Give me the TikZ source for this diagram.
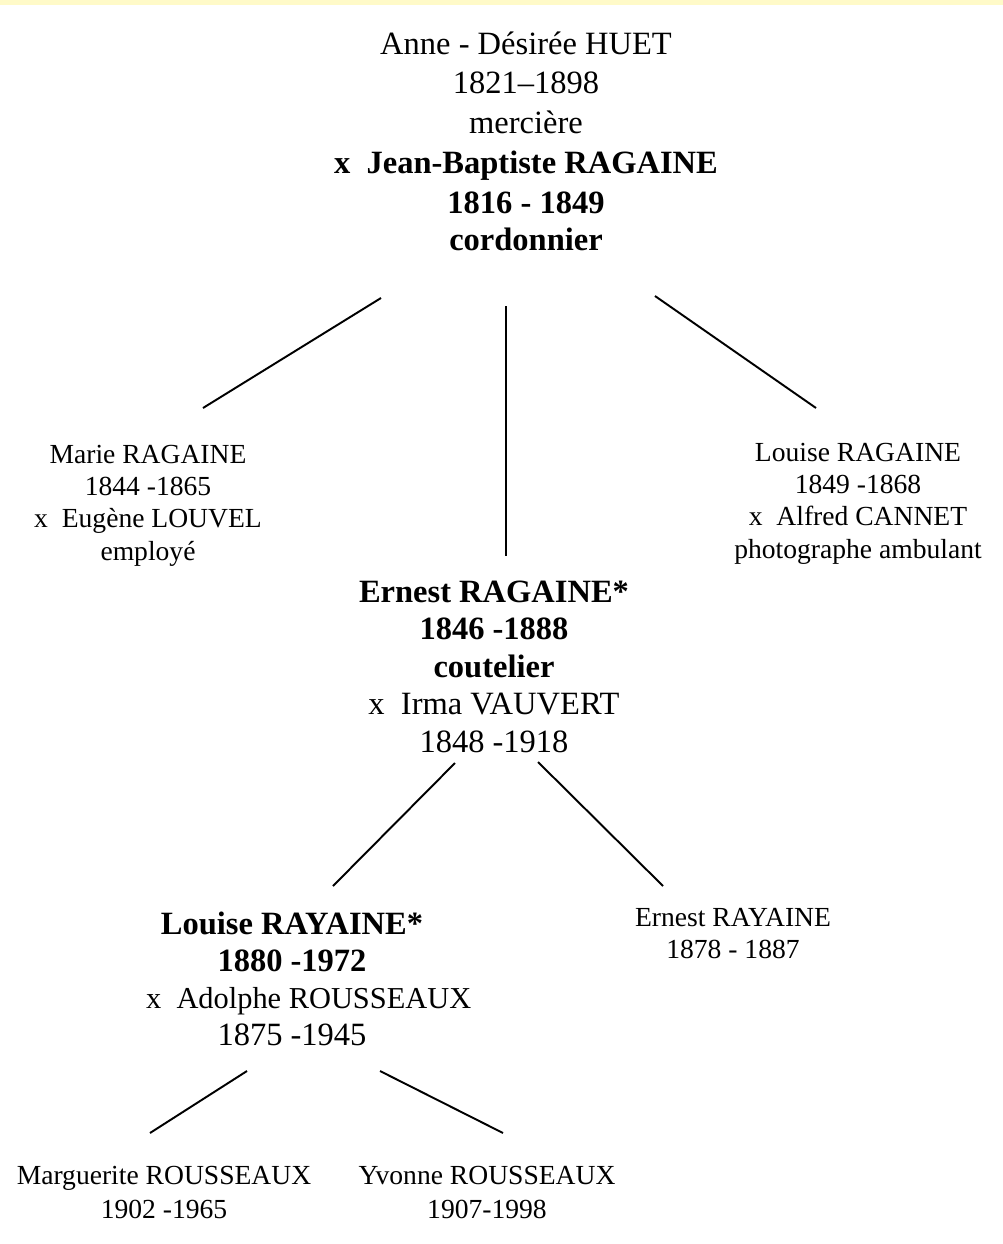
\documentclass[tikz,border=0pt]{standalone}
\usepackage{fontspec}
\setmainfont{Liberation Serif}
\usepackage{xcolor}
\usepackage{tikz}
\definecolor{band}{HTML}{FFFAC8}

\begin{document}
\begin{tikzpicture}[
        x=0.02cm, y=-0.02cm,
        bigbox/.style={align=center, inner sep=0pt, anchor=base,
                       font=\fontsize{18.5}{22.7}\selectfont},
        smallbox/.style={align=center, inner sep=0pt, anchor=base,
                         font=\fontsize{15.7}{18.3}\selectfont},
        link/.style={line width=1.1pt}
    ]
      \useasboundingbox (0,0) rectangle (1003,1244);
      \fill[white] (0,0) rectangle (1003,1244);
      \fill[band] (0,0) rectangle (1003,5);

      % generation 1 (nodes sit on the baseline of their last line)
      \node[bigbox] (anne) at (526,250) {Anne - Désirée HUET\\ 1821–1898\\ mercière\\
        \textbf{x\ \ Jean-Baptiste RAGAINE}\\ \textbf{1816 - 1849}\\[-2pt] \textbf{cordonnier}};

      % generation 2
      \node[smallbox] (marie) at (148,560) {Marie RAGAINE\\ 1844 -1865\\ x\ \ Eugène LOUVEL\\ employé};
      \node[bigbox, font=\fontsize{18.5}{21.3}\selectfont] (ernest) at (494,752)
        {\textbf{Ernest RAGAINE*}\\ \textbf{1846 -1888}\\ \textbf{coutelier}\\ x\ \ Irma VAUVERT\\ 1848 -1918};
      \node[smallbox] (louise) at (858,558) {Louise RAGAINE\\ 1849 -1868\\ x\ \ Alfred CANNET\\ photographe ambulant};

      % generation 3
      \node[bigbox, font=\fontsize{18.5}{20.9}\selectfont] (louiseb) at (292,1045)
        {\textbf{Louise RAYAINE*}\\ \textbf{1880 -1972}\\
         \hspace*{19pt}{\fontsize{17.3}{20.9}\selectfont x\ \ Adolphe ROUSSEAUX}\\ 1875 -1945};
      \node[smallbox, font=\fontsize{15.7}{17.7}\selectfont] (ernestb) at (733,958) {Ernest RAYAINE\\ 1878 - 1887};

      % generation 4
      \node[smallbox, font=\fontsize{15.7}{18.8}\selectfont] (marg) at (164,1218) {Marguerite ROUSSEAUX\\ 1902 -1965};
      \node[smallbox, font=\fontsize{15.7}{18.8}\selectfont] (yvonne) at (487,1218) {Yvonne ROUSSEAUX\\ 1907-1998};

      % connector ends
      \coordinate (a1) at (381,298);  \coordinate (a2) at (203,408);
      \coordinate (b1) at (506,306);  \coordinate (b2) at (506,556);
      \coordinate (c1) at (655,296);  \coordinate (c2) at (816,408);
      \coordinate (d1) at (455,763);  \coordinate (d2) at (333,886);
      \coordinate (e1) at (538,762);  \coordinate (e2) at (663,886);
      \coordinate (f1) at (247,1071); \coordinate (f2) at (150,1133);
      \coordinate (g1) at (380,1071); \coordinate (g2) at (503,1133);

      \draw[link] (a1) -- (a2);
      \draw[link] (b1) -- (b2);
      \draw[link] (c1) -- (c2);
      \draw[link] (d1) -- (d2);
      \draw[link] (e1) -- (e2);
      \draw[link] (f1) -- (f2);
      \draw[link] (g1) -- (g2);
    \end{tikzpicture}
\end{document}
